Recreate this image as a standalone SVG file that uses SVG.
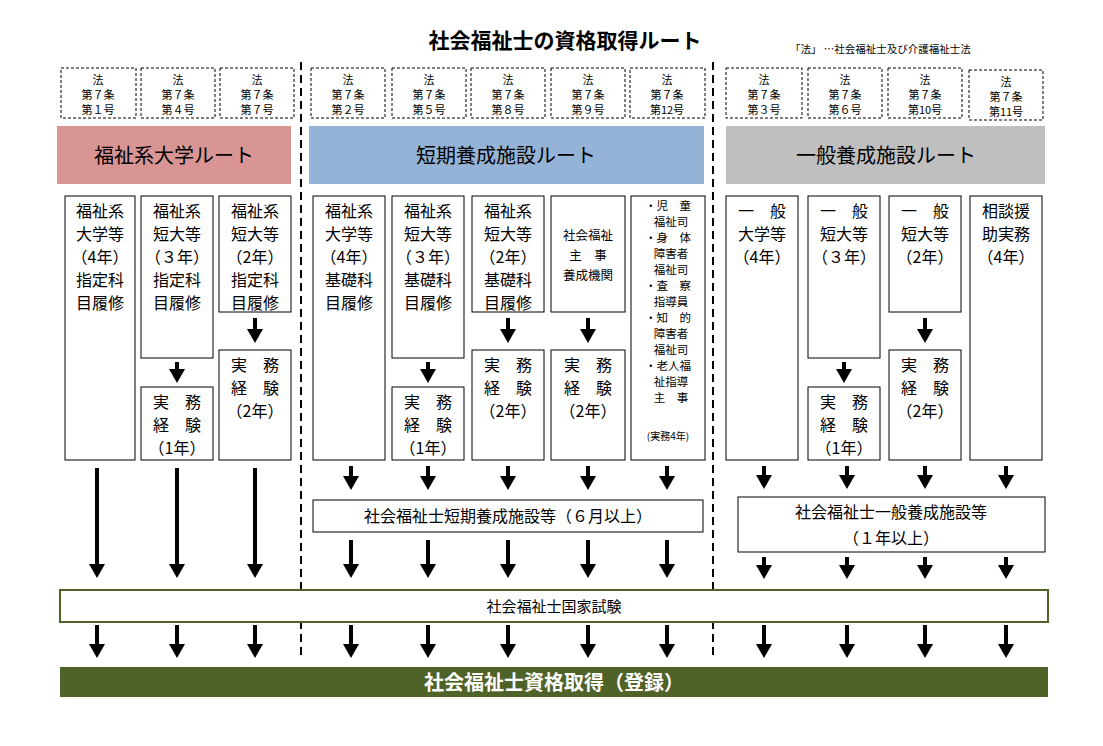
<svg xmlns="http://www.w3.org/2000/svg" width="1103" height="746" viewBox="0 0 1103 746">
<style>
text{font-family:"Noto Sans CJK JP","Noto Sans CJK SC",sans-serif;fill:#000}
.lb{fill:#fff;stroke:#000;stroke-width:1;stroke-dasharray:3,2}
.lt{font-size:11px;text-anchor:middle}
.bx{fill:#fff;stroke:#000;stroke-width:1}
.t{font-size:16px;text-anchor:middle}
.s{font-size:11.5px;text-anchor:middle}
.div{stroke:#000;stroke-width:2;stroke-dasharray:8,5}
.ar{stroke:#000;stroke-width:4;marker-end:url(#ah)}
</style>
<defs>
<marker id="ah" markerUnits="userSpaceOnUse" markerWidth="14" markerHeight="16" refX="1" refY="8" orient="auto" viewBox="0 0 14 16"><path d="M0,0 L14,8 L0,16 Z" fill="#000"/></marker>
</defs>
<rect width="1103" height="746" fill="#fff"/>
<g id="title">
<text x="565" y="48" font-size="21" font-weight="bold" text-anchor="middle">社会福祉士の資格取得ルート</text>
<text x="790" y="53" font-size="10.5">「法」 …社会福祉士及び介護福祉士法</text>
</g>
<g id="dividers">
<line class="div" x1="301" y1="62" x2="301" y2="660"/>
<line class="div" x1="713" y1="62" x2="713" y2="660"/>
</g>
<g id="law-labels">
<rect class="lb" x="61" y="68" width="75" height="50"/><text class="lt" x="98" y="84">法</text><text class="lt" x="98" y="99">第７条</text><text class="lt" x="98" y="114">第１号</text>
<rect class="lb" x="141" y="68" width="74" height="50"/><text class="lt" x="178" y="84">法</text><text class="lt" x="178" y="99">第７条</text><text class="lt" x="178" y="114">第４号</text>
<rect class="lb" x="220" y="68" width="74" height="50"/><text class="lt" x="257" y="84">法</text><text class="lt" x="257" y="99">第７条</text><text class="lt" x="257" y="114">第７号</text>
<rect class="lb" x="311" y="68" width="74" height="50"/><text class="lt" x="348" y="84">法</text><text class="lt" x="348" y="99">第７条</text><text class="lt" x="348" y="114">第２号</text>
<rect class="lb" x="392" y="68" width="74" height="50"/><text class="lt" x="429" y="84">法</text><text class="lt" x="429" y="99">第７条</text><text class="lt" x="429" y="114">第５号</text>
<rect class="lb" x="471" y="68" width="74" height="50"/><text class="lt" x="508" y="84">法</text><text class="lt" x="508" y="99">第７条</text><text class="lt" x="508" y="114">第８号</text>
<rect class="lb" x="551" y="68" width="74" height="50"/><text class="lt" x="588" y="84">法</text><text class="lt" x="588" y="99">第７条</text><text class="lt" x="588" y="114">第９号</text>
<rect class="lb" x="630" y="68" width="75" height="50"/><text class="lt" x="667" y="84">法</text><text class="lt" x="667" y="99">第７条</text><text class="lt" x="667" y="114">第12号</text>
<rect class="lb" x="726" y="68" width="76" height="50"/><text class="lt" x="764" y="84">法</text><text class="lt" x="764" y="99">第７条</text><text class="lt" x="764" y="114">第３号</text>
<rect class="lb" x="808" y="68" width="74" height="50"/><text class="lt" x="845" y="84">法</text><text class="lt" x="845" y="99">第７条</text><text class="lt" x="845" y="114">第６号</text>
<rect class="lb" x="888" y="68" width="74" height="50"/><text class="lt" x="925" y="84">法</text><text class="lt" x="925" y="99">第７条</text><text class="lt" x="925" y="114">第10号</text>
<rect class="lb" x="969" y="70" width="74" height="50"/><text class="lt" x="1006" y="86">法</text><text class="lt" x="1006" y="101">第７条</text><text class="lt" x="1006" y="116">第11号</text>
</g>
<g id="headers">
<rect x="57" y="126" width="234" height="58" fill="#d99594"/><text x="174" y="163" font-size="20" text-anchor="middle">福祉系大学ルート</text>
<rect x="309" y="126" width="395" height="58" fill="#95b3d7"/><text x="506" y="163" font-size="20" text-anchor="middle">短期養成施設ルート</text>
<rect x="726" y="126" width="319" height="58" fill="#bfbfbf"/><text x="886" y="163" font-size="20" text-anchor="middle">一般養成施設ルート</text>
</g>
<g id="col1"><rect class="bx" x="65" y="196" width="70" height="264"/>
<text class="t" x="100" y="217">福祉系</text><text class="t" x="100" y="240">大学等</text><text class="t" x="100" y="263">（4年）</text><text class="t" x="100" y="286">指定科</text><text class="t" x="100" y="309">目履修</text></g>
<g id="col2"><rect class="bx" x="141" y="196" width="72" height="162"/>
<text class="t" x="177" y="217">福祉系</text><text class="t" x="177" y="240">短大等</text><text class="t" x="177" y="263">（３年）</text><text class="t" x="177" y="286">指定科</text><text class="t" x="177" y="309">目履修</text>
<rect class="bx" x="141" y="387" width="72" height="73"/><text class="t" x="177" y="408">実　務</text><text class="t" x="177" y="431">経　験</text><text class="t" x="177" y="454">（1年）</text></g>
<g id="col3"><rect class="bx" x="219" y="196" width="72" height="116"/>
<text class="t" x="255" y="217">福祉系</text><text class="t" x="255" y="240">短大等</text><text class="t" x="255" y="263">（2年）</text><text class="t" x="255" y="286">指定科</text><text class="t" x="255" y="309">目履修</text>
<rect class="bx" x="219" y="350" width="72" height="110"/><text class="t" x="255" y="371">実　務</text><text class="t" x="255" y="394">経　験</text><text class="t" x="255" y="417">（2年）</text></g>
<g id="col4"><rect class="bx" x="313" y="196" width="72" height="264"/>
<text class="t" x="349" y="217">福祉系</text><text class="t" x="349" y="240">大学等</text><text class="t" x="349" y="263">（4年）</text><text class="t" x="349" y="286">基礎科</text><text class="t" x="349" y="309">目履修</text></g>
<g id="col5"><rect class="bx" x="392" y="196" width="72" height="162"/>
<text class="t" x="428" y="217">福祉系</text><text class="t" x="428" y="240">短大等</text><text class="t" x="428" y="263">（３年）</text><text class="t" x="428" y="286">基礎科</text><text class="t" x="428" y="309">目履修</text>
<rect class="bx" x="392" y="387" width="72" height="73"/><text class="t" x="428" y="408">実　務</text><text class="t" x="428" y="431">経　験</text><text class="t" x="428" y="454">（1年）</text></g>
<g id="col6"><rect class="bx" x="472" y="196" width="72" height="116"/>
<text class="t" x="508" y="217">福祉系</text><text class="t" x="508" y="240">短大等</text><text class="t" x="508" y="263">（2年）</text><text class="t" x="508" y="286">基礎科</text><text class="t" x="508" y="309">目履修</text>
<rect class="bx" x="472" y="350" width="72" height="110"/><text class="t" x="508" y="371">実　務</text><text class="t" x="508" y="394">経　験</text><text class="t" x="508" y="417">（2年）</text></g>
<g id="col7"><rect class="bx" x="551" y="196" width="74" height="116"/>
<text x="588" y="240" font-size="12.5" text-anchor="middle">社会福祉</text><text x="588" y="260" font-size="12.5" text-anchor="middle">主　事</text><text x="588" y="280" font-size="12.5" text-anchor="middle">養成機関</text>
<rect class="bx" x="551" y="350" width="74" height="110"/><text class="t" x="588" y="371">実　務</text><text class="t" x="588" y="394">経　験</text><text class="t" x="588" y="417">（2年）</text></g>
<g id="col8"><rect class="bx" x="631" y="196" width="74" height="264"/>
<text class="s" x="668" y="210">・児　童</text><text class="s" x="671" y="226">福祉司</text><text class="s" x="668" y="242">・身　体</text><text class="s" x="671" y="258">障害者</text><text class="s" x="671" y="274">福祉司</text><text class="s" x="668" y="290">・査　察</text><text class="s" x="671" y="306">指導員</text><text class="s" x="668" y="322">・知　的</text><text class="s" x="671" y="338">障害者</text><text class="s" x="671" y="354">福祉司</text><text class="s" x="668" y="370">・老人福</text><text class="s" x="671" y="386">祉指導</text><text class="s" x="671" y="402">主　事</text>
<text x="668" y="440" font-size="10" text-anchor="middle">(実務4年)</text></g>
<g id="col9"><rect class="bx" x="726" y="196" width="72" height="264"/>
<text class="t" x="762" y="217">一　般</text><text class="t" x="762" y="240">大学等</text><text class="t" x="762" y="263">（4年）</text></g>
<g id="col10"><rect class="bx" x="808" y="196" width="72" height="162"/>
<text class="t" x="844" y="217">一　般</text><text class="t" x="844" y="240">短大等</text><text class="t" x="844" y="263">（３年）</text>
<rect class="bx" x="808" y="387" width="72" height="73"/><text class="t" x="844" y="408">実　務</text><text class="t" x="844" y="431">経　験</text><text class="t" x="844" y="454">（1年）</text></g>
<g id="col11"><rect class="bx" x="889" y="196" width="72" height="116"/>
<text class="t" x="925" y="217">一　般</text><text class="t" x="925" y="240">短大等</text><text class="t" x="925" y="263">（2年）</text>
<rect class="bx" x="889" y="350" width="72" height="110"/><text class="t" x="925" y="371">実　務</text><text class="t" x="925" y="394">経　験</text><text class="t" x="925" y="417">（2年）</text></g>
<g id="col12"><rect class="bx" x="970" y="196" width="72" height="264"/>
<text class="t" x="1006" y="217">相談援</text><text class="t" x="1006" y="240">助実務</text><text class="t" x="1006" y="263">（4年）</text></g>
<g id="short-training"><rect class="bx" x="313" y="500" width="390" height="32"/><text x="508" y="522" font-size="16" text-anchor="middle">社会福祉士短期養成施設等（６月以上）</text></g>
<g id="general-training"><rect class="bx" x="738" y="497" width="307" height="55"/><text x="891" y="518" font-size="16" text-anchor="middle">社会福祉士一般養成施設等</text><text x="891" y="544" font-size="16" text-anchor="middle">（１年以上）</text></g>
<g id="exam"><rect x="60" y="590" width="988" height="32" fill="#fff" stroke="#4f6228" stroke-width="2"/><text x="554" y="612" font-size="15" text-anchor="middle">社会福祉士国家試験</text></g>
<g id="final"><rect x="60" y="667" width="988" height="30" fill="#4f6228"/><text x="554" y="690" font-size="20" font-weight="bold" text-anchor="middle" style="fill:#fff">社会福祉士資格取得（登録）</text></g>
<g id="connectors">
<line class="ar" x1="177" y1="362" x2="177" y2="370"/><line class="ar" x1="255" y1="318" x2="255" y2="330"/>
<line class="ar" x1="428" y1="362" x2="428" y2="370"/><line class="ar" x1="508" y1="318" x2="508" y2="330"/><line class="ar" x1="588" y1="318" x2="588" y2="330"/>
<line class="ar" x1="844" y1="362" x2="844" y2="370"/><line class="ar" x1="925" y1="318" x2="925" y2="330"/>
<line class="ar" x1="97" y1="468" x2="97" y2="565"/><line class="ar" x1="177" y1="468" x2="177" y2="565"/><line class="ar" x1="255" y1="468" x2="255" y2="565"/>
<line class="ar" x1="351" y1="466" x2="351" y2="477"/><line class="ar" x1="428" y1="466" x2="428" y2="477"/><line class="ar" x1="508" y1="466" x2="508" y2="477"/><line class="ar" x1="588" y1="466" x2="588" y2="477"/><line class="ar" x1="667" y1="466" x2="667" y2="477"/>
<line class="ar" x1="351" y1="540" x2="351" y2="565"/><line class="ar" x1="428" y1="540" x2="428" y2="565"/><line class="ar" x1="508" y1="540" x2="508" y2="565"/><line class="ar" x1="588" y1="540" x2="588" y2="565"/><line class="ar" x1="667" y1="540" x2="667" y2="565"/>
<line class="ar" x1="764" y1="466" x2="764" y2="476"/><line class="ar" x1="847" y1="466" x2="847" y2="476"/><line class="ar" x1="925" y1="466" x2="925" y2="476"/><line class="ar" x1="1006" y1="466" x2="1006" y2="476"/>
<line class="ar" x1="764" y1="557" x2="764" y2="566"/><line class="ar" x1="847" y1="557" x2="847" y2="566"/><line class="ar" x1="925" y1="557" x2="925" y2="566"/><line class="ar" x1="1006" y1="557" x2="1006" y2="566"/>
<line class="ar" x1="97" y1="625" x2="97" y2="645"/><line class="ar" x1="177" y1="625" x2="177" y2="645"/><line class="ar" x1="255" y1="625" x2="255" y2="645"/><line class="ar" x1="351" y1="625" x2="351" y2="645"/><line class="ar" x1="428" y1="625" x2="428" y2="645"/><line class="ar" x1="508" y1="625" x2="508" y2="645"/><line class="ar" x1="588" y1="625" x2="588" y2="645"/><line class="ar" x1="667" y1="625" x2="667" y2="645"/><line class="ar" x1="764" y1="625" x2="764" y2="645"/><line class="ar" x1="847" y1="625" x2="847" y2="645"/><line class="ar" x1="925" y1="625" x2="925" y2="645"/><line class="ar" x1="1006" y1="625" x2="1006" y2="645"/>
</g>
</svg>
